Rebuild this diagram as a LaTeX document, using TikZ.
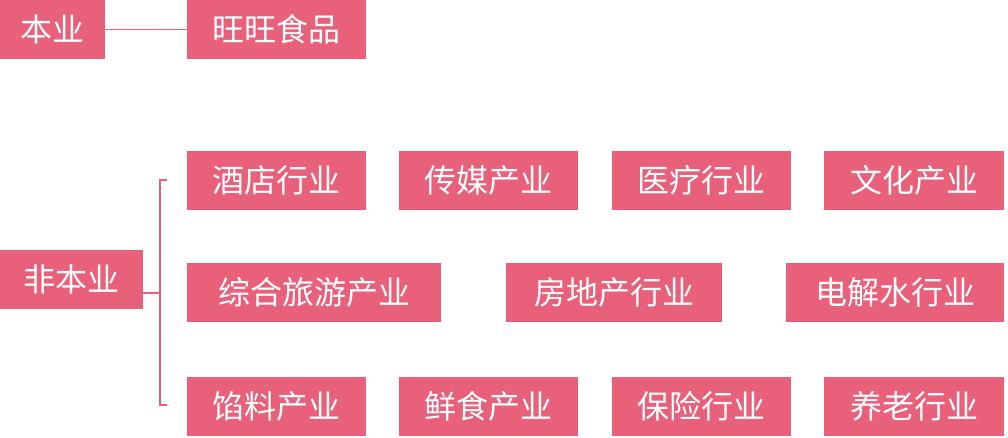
\documentclass[tikz,border=0pt]{standalone}
\usepackage{fontspec}
\setmainfont{Noto Sans CJK SC}
\definecolor{pk}{HTML}{E8607A}
\begin{document}
\begin{tikzpicture}[x=1pt,y=-1pt,
  bx/.style={fill=pk,text=white,inner sep=0pt,font=\fontsize{32}{36}\selectfont},
  ln/.style={draw=pk,line width=1.2pt}]
\useasboundingbox (0,0) rectangle (1008,437);
\newcommand\bx[6]{\node[bx,minimum width=#4-#2,minimum height=#5-#3] (#1) at ({(#2+#4)/2},{(#3+#5)/2}) {#6};}
\bx{a}{0}{0}{105}{59}{本业}
\bx{b}{187}{0}{366}{59}{旺旺食品}
\draw[ln] (a) -- (b);
\bx{n}{0}{250}{143}{309}{非本业}
\bx{r1}{187}{151}{366}{210}{酒店行业}
\bx{r2}{399}{151}{578}{210}{传媒产业}
\bx{r3}{612}{151}{791}{210}{医疗行业}
\bx{r4}{824}{151}{1004}{210}{文化产业}
\bx{s1}{187}{263}{441}{322}{综合旅游产业}
\bx{s2}{506}{263}{722}{322}{房地产行业}
\bx{s3}{786}{263}{1004}{322}{电解水行业}
\bx{t1}{187}{377}{366}{436}{馅料产业}
\bx{t2}{399}{377}{578}{436}{鲜食产业}
\bx{t3}{612}{377}{791}{436}{保险行业}
\bx{t4}{824}{377}{1004}{436}{养老行业}
\coordinate (m) at (160,293);
\draw[ln] (n.east |- m) -- (m);
\draw[ln] (167,180) -- (160,180) -- (160,405) -- (167,405);
\end{tikzpicture}
\end{document}
